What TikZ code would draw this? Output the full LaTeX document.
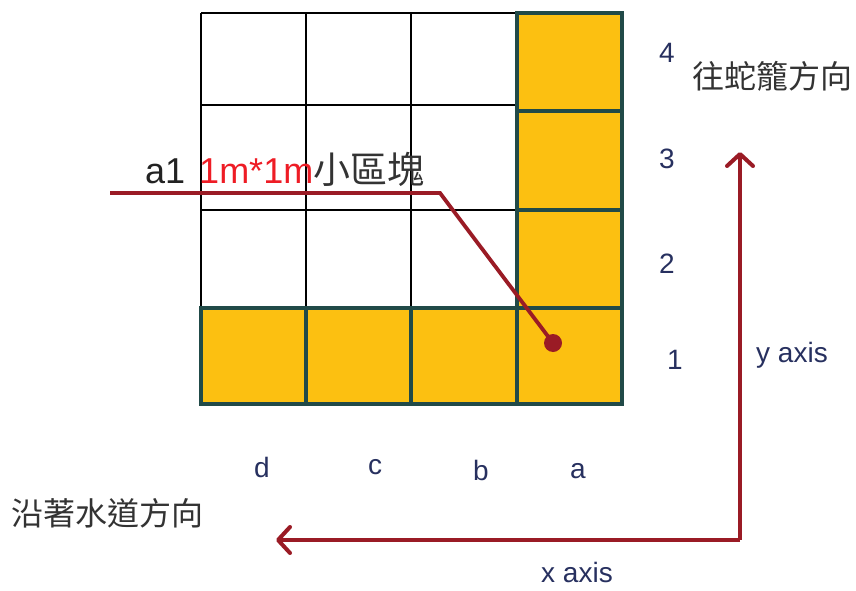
\documentclass[tikz,border=0pt]{standalone}
\usepackage{fontspec}
\setmainfont{Liberation Sans}
\newfontfamily\cjk{Noto Sans CJK TC}
\usetikzlibrary{arrows.meta}
\definecolor{gold}{HTML}{FCC011}
\definecolor{teal}{HTML}{214A48}
\definecolor{axred}{HTML}{9A1B25}
\definecolor{navy}{HTML}{27305F}
\definecolor{cjkgray}{HTML}{333333}
\begin{document}
\begin{tikzpicture}[x=1pt,y=-1pt,
  cell/.style={fill=gold,draw=teal,line width=3.5pt},
  thin/.style={draw=black,line width=1.6pt},
  lbl/.style={text=navy,font=\fontsize{28}{30}\selectfont,inner sep=0pt},
  cjklbl/.style={text=cjkgray,font=\cjk\fontsize{32}{34}\selectfont,inner sep=0pt},
  axis/.style={draw=axred,line width=4pt,-{Straight Barb[length=12pt,width=26pt,line width=4pt,round]}},
  callout/.style={draw=axred,line width=3.8pt},
  dotnode/.style={circle,fill=axred,inner sep=0pt,minimum size=18pt}]
\useasboundingbox (0,0) rectangle (856,591);
% white grid
\foreach \x in {201,306,411} \draw[thin] (\x,13) -- (\x,308);
\foreach \y in {13,105,210} \draw[thin] (201,\y) -- (517,\y);
% orange cells
\foreach \y/\h in {13/111,111/210,210/308,308/404} \draw[cell] (517,\y) rectangle (622,\h);
\foreach \x/\w in {201/306,306/411,411/517} \draw[cell] (\x,308) rectangle (\w,404);
% row labels
\node[lbl] (r4) at (667,53) {4};
\node[lbl] (r3) at (667,159) {3};
\node[lbl] (r2) at (667,264) {2};
\node[lbl] (r1) at (675,360) {1};
% column labels
\node[lbl] (cd) at (262,467) {d};
\node[lbl] (cc) at (375,467) {c};
\node[lbl] (cb) at (481,470) {b};
\node[lbl] (ca) at (578,471) {a};
% direction texts
\node[cjklbl,anchor=west] (ty) at (692,76) {往蛇籠方向};
\node[cjklbl,anchor=west] (tx) at (11,513) {沿著水道方向};
\node[lbl,anchor=west] (ya) at (756,355) {y axis};
\node[lbl] (xa) at (577,572) {x axis};
% axes
\coordinate (o) at (740,540);
\coordinate (ytip) at (740,152);
\coordinate (xtip) at (276,540);
\draw[axis] (o) -- (ytip);
\draw[axis] (o) -- (xtip);
% callout
\node[anchor=base west,inner sep=0pt,font=\fontsize{36}{38}\selectfont] (cap) at (145,183)
  {\textcolor[HTML]{222222}{a1}\hspace{14pt}\textcolor[HTML]{EE1C25}{1m*1m}\textcolor{cjkgray}{\cjk\fontsize{37}{39}\selectfont 小區塊}};
\coordinate (cs) at (110,193);
\coordinate (cb1) at (440,193);
\node[dotnode] (dot) at (553,343) {};
\draw[callout] (cs) -- (cb1) -- (dot.center);
\end{tikzpicture}
\end{document}
